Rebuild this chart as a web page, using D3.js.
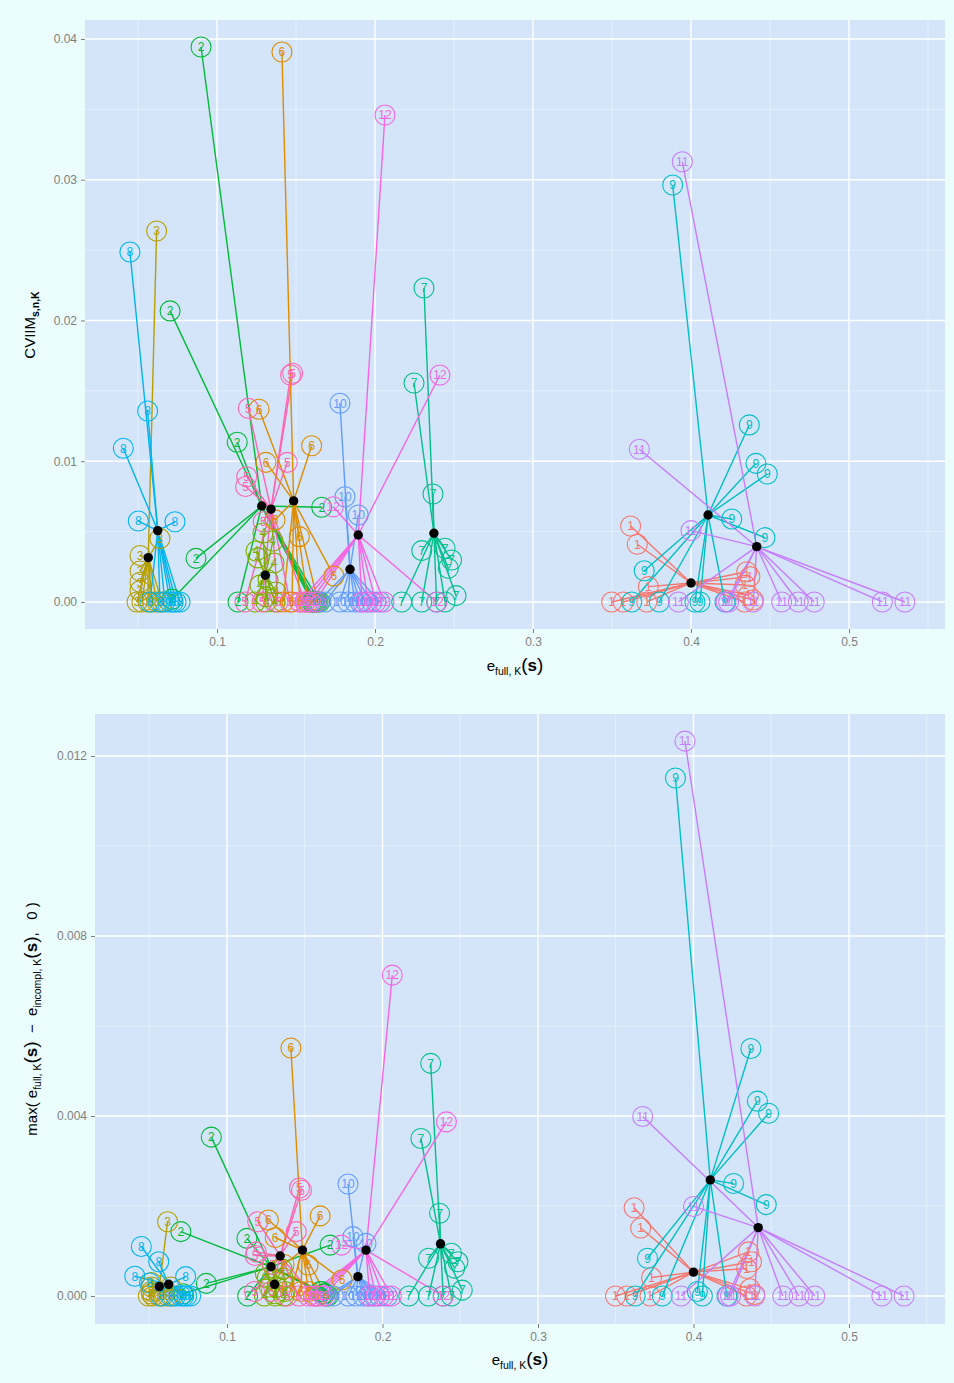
<!DOCTYPE html>
<html><head><meta charset="utf-8">
<script src="https://cdn.jsdelivr.net/npm/d3@7"></script>
<style>body{margin:0;background:#EBFDFD;} svg{display:block}</style>
</head><body><svg id="c" width="954" height="1383"></svg>
<script>
// group labels and colours
const groupLabels = [1,2,3,4,5,6,7,8,9,10,11,12];
const groupColors = ["#F8766D","#00BA38","#B79F00","#7CAE00","#FF64B0","#DE8C00","#00C08B","#00B4F0","#00BFC4","#619CFF","#C77CFF","#F564E3"];

// points: group, e_full,K(s), CVIIM, max(e_full - e_incompl, 0)
const pointGroup = [
 1,1,1,1,1,1,1,1,1,1,1,1,
 2,2,2,2,2,2,2,2,2,2,2,2,
 3,3,3,3,3,3,3,3,3,3,3,3,
 4,4,4,4,4,4,4,4,4,4,4,4,
 5,5,5,5,5,5,5,5,5,5,5,5,
 6,6,6,6,6,6,6,6,6,6,6,6,
 7,7,7,7,7,7,7,7,7,7,7,7,
 8,8,8,8,8,8,8,8,8,8,8,8,
 9,9,9,9,9,9,9,9,9,9,9,9,
 10,10,10,10,10,10,10,10,10,10,10,10,
 11,11,11,11,11,11,11,11,11,11,11,11,
 12,12,12,12,12,12,12,12,12,12,12,12];
const pointX = [
 0.3618,0.366,0.373,0.4353,0.4373,0.4342,0.4363,0.4394,0.3498,0.3571,0.372,0.434,
 0.0899,0.0703,0.0867,0.1128,0.1663,0.0717,0.1133,0.160,0.161,0.162,0.163,0.165,
 0.0618,0.0513,0.0513,0.0513,0.0513,0.0639,0.0494,0.0525,0.0563,0.0589,0.062,0.0652,
 0.1291,0.1247,0.1354,0.1361,0.1272,0.1323,0.1373,0.1259,0.131,0.1241,0.131,0.1367,
 0.1466,0.1479,0.1198,0.1445,0.1188,0.1181,0.1293,0.1177,0.1285,0.1386,0.1462,0.1557,
 0.1411,0.1266,0.1599,0.131,0.1521,0.174,0.1367,0.1418,0.1475,0.1525,0.1576,0.1639,
 0.231,0.2247,0.2367,0.2296,0.2443,0.2485,0.2464,0.2513,0.2169,0.2296,0.239,0.2443,
 0.0449,0.0561,0.0407,0.0502,0.0734,0.0576,0.0639,0.067,0.0703,0.0722,0.0741,0.0766,
 0.3884,0.4369,0.4411,0.4483,0.4258,0.4468,0.3704,0.3625,0.3799,0.4025,0.4057,0.4215,
 0.1778,0.181,0.1894,0.1639,0.1684,0.1778,0.1829,0.1873,0.1905,0.1943,0.1981,0.2032,
 0.3945,0.3673,0.4,0.392,0.4222,0.4238,0.4394,0.4574,0.4679,0.478,0.5211,0.5354,
 0.2063,0.2411,0.1736,0.1525,0.1557,0.1589,0.162,0.1918,0.1956,0.2006,0.2057,0.2392];
const cviim = [
 0.0054,0.0041,0.00109,0.00215,0.0018,0.00121,0.0005,0.00014,0,0,0,0,
 0.03943,0.02068,0.0031,0.01135,0.00673,0.0002,0,0,0,0,0,0,
 0.02636,0.0033,0.0022,0.0014,0.0008,0.0045,0,0,0,0,0,0,
 0.0049,0.00362,0.00433,0.00277,0.0012,0.00156,0.00071,0.00313,0.00036,0,0,0,
 0.01613,0.01625,0.01376,0.00992,0.0089,0.0082,0.0057,0,0,0,0,0,
 0.03908,0.01369,0.0111,0.00992,0.00464,0.00185,0.00583,0,0,0,0,0,
 0.02231,0.01556,0.00767,0.00365,0.00382,0.00298,0.0024,0.00045,0,0,0,0,
 0.02487,0.01357,0.01092,0.00575,0.0057,0,0,0,0,0,0,0,
 0.02963,0.01258,0.00985,0.00909,0.0059,0.00457,0.00222,0,0,0,0,0,
 0.01412,0.00748,0.00618,0,0,0,0,0,0,0,0,0,
 0.03128,0.01085,0.00507,0,0,0,0,0,0,0,0,0,
 0.0346,0.01613,0.00677,0,0,0,0,0,0,0,0,0];
const maxDiff = [
 0.00196,0.00151,0.00041,0.00098,0.00076,0.00061,0.00016,0.00003,0,0,0,0,
 0.00353,0.00143,0.00028,0.00128,0.00113,0.00005,0,0.0001,0.0001,0.00005,0.00005,0,
 0.00165,0.0003,0.0002,0.0001,0.00005,0.0002,0,0,0,0,0,0,
 0.0007,0.0005,0.0006,0.0004,0.0002,0.0002,0.0001,0.0004,0.00005,0,0,0,
 0.0024,0.00235,0.00165,0.00143,0.00098,0.0009,0.0007,0.0001,0.0001,0,0,0,
 0.00551,0.00169,0.00178,0.0013,0.00069,0.00036,0.0007,0.0002,0.0001,0.0001,0,0,
 0.00517,0.0035,0.00184,0.00084,0.00095,0.00076,0.00062,0.00013,0,0,0,0,
 0.0011,0.00076,0.00044,0.00029,0.00043,0,0,0,0,0,0,0,
 0.01151,0.0055,0.00433,0.00406,0.0025,0.00203,0.00084,0,0,0.0001,0,0,
 0.00249,0.00132,0.00117,0,0,0,0,0,0,0,0,0,
 0.01233,0.00399,0.00199,0,0,0,0,0,0,0,0,0,
 0.00713,0.00387,0.00113,0,0,0,0,0,0,0,0,0];

// group centroids (black dots), indexed like groupLabels
const centroidX       = [0.400,0.1283,0.0565,0.1306,0.1342,0.1485,0.2373,0.0625,0.4108,0.1842,0.4416,0.1894];
const centroidCviim   = [0.00135,0.00682,0.00315,0.0019,0.00659,0.00718,0.00488,0.00507,0.00618,0.00232,0.00393,0.00476];
const centroidMaxDiff = [0.00053,0.00065,0.00021,0.00026,0.00089,0.00102,0.00116,0.00026,0.00258,0.00043,0.00152,0.00102];

// ticks
const xTicks = [0.1,0.2,0.3,0.4,0.5];
const xMinor = [0.05,0.15,0.25,0.35,0.45,0.55];
const topYTicks = [0,0.01,0.02,0.03,0.04];
const topYMinor = [0.005,0.015,0.025,0.035];
const botYTicks = [0,0.004,0.008,0.012];
const botYMinor = [0.002,0.006,0.010];

const svg = d3.select("#c");
const colorOf = d3.scaleOrdinal().domain(groupLabels).range(groupColors);
const pts = pointGroup.map((g,i)=>({g, x:pointX[i], top:cviim[i], bot:maxDiff[i]}));
const cents = groupLabels.map((g,i)=>({g, x:centroidX[i], top:centroidCviim[i], bot:centroidMaxDiff[i]}));

function panel(o){
  const x = d3.scaleLinear().domain(o.xDomain).range([o.left,o.right]);
  const y = d3.scaleLinear().domain(o.yDomain).range([o.bottom,o.top]);
  const g = svg.append("g");
  g.append("rect").attr("x",o.left).attr("y",o.top).attr("width",o.right-o.left).attr("height",o.bottom-o.top).attr("fill","#D4E5FA");
  // minor grid
  g.selectAll(".mx").data(xMinor).join("line").attr("x1",d=>x(d)).attr("x2",d=>x(d)).attr("y1",o.top).attr("y2",o.bottom).attr("stroke","#E6F0FC").attr("stroke-width",0.9);
  g.selectAll(".my").data(o.yMinor).join("line").attr("y1",d=>y(d)).attr("y2",d=>y(d)).attr("x1",o.left).attr("x2",o.right).attr("stroke","#E6F0FC").attr("stroke-width",0.9);
  g.selectAll(".Mx").data(xTicks).join("line").attr("x1",d=>x(d)).attr("x2",d=>x(d)).attr("y1",o.top).attr("y2",o.bottom).attr("stroke","#FFFFFF").attr("stroke-width",1.4);
  g.selectAll(".My").data(o.yTicks).join("line").attr("y1",d=>y(d)).attr("y2",d=>y(d)).attr("x1",o.left).attr("x2",o.right).attr("stroke","#FFFFFF").attr("stroke-width",1.4);
  // axes
  const ax = g.append("g").attr("transform",`translate(0,${o.bottom})`).call(d3.axisBottom(x).tickValues(xTicks).tickSize(4).tickPadding(4).tickFormat(d3.format(".1f")));
  const ay = g.append("g").attr("transform",`translate(${o.left},0)`).call(d3.axisLeft(y).tickValues(o.yTicks).tickSize(4).tickPadding(4).tickFormat(d3.format(o.yFmt)));
  [ax,ay].forEach(a=>{a.select(".domain").remove();a.selectAll("line").attr("stroke","#7F7F7F");a.selectAll("text").attr("fill","#7F7F7F").style("font-family","Liberation Sans, Arial, sans-serif").style("font-size","12px");});
  // segments
  const cmap = new Map(cents.map(c=>[c.g,c]));
  const clip = "clip"+o.id;
  svg.append("clipPath").attr("id",clip).append("rect").attr("x",o.left).attr("y",o.top).attr("width",o.right-o.left).attr("height",o.bottom-o.top);
  const d = g.append("g").attr("clip-path",`url(#${clip})`);
  d.selectAll(".seg").data(pts).join("line")
    .attr("x1",p=>x(p.x)).attr("y1",p=>y(p[o.key]))
    .attr("x2",p=>x(cmap.get(p.g).x)).attr("y2",p=>y(cmap.get(p.g)[o.key]))
    .attr("stroke",p=>colorOf(p.g)).attr("stroke-width",1.4);
  d.selectAll(".pt").data(pts).join("circle")
    .attr("cx",p=>x(p.x)).attr("cy",p=>y(p[o.key])).attr("r",10)
    .attr("fill","none").attr("stroke",p=>colorOf(p.g)).attr("stroke-width",1.1);
  d.selectAll(".lb").data(pts).join("text")
    .attr("x",p=>x(p.x)).attr("y",p=>y(p[o.key])).attr("dy","0.36em").attr("text-anchor","middle")
    .attr("fill",p=>colorOf(p.g)).style("font-family","Liberation Sans, Arial, sans-serif").style("font-size","12px")
    .text(p=>p.g);
  d.selectAll(".ct").data(cents).join("circle")
    .attr("cx",c=>x(c.x)).attr("cy",c=>y(c[o.key])).attr("r",4.7).attr("fill","#000");
  return {x,y};
}

panel({id:1,left:85,right:945,top:20,bottom:629,xDomain:[0.01646,0.56076],yDomain:[-0.00192,0.04135],yTicks:topYTicks,yMinor:topYMinor,yFmt:".2f",key:"top"});
panel({id:2,left:95,right:945,top:714,bottom:1324,xDomain:[0.01511,0.56173],yDomain:[-0.000622,0.012933],yTicks:botYTicks,yMinor:botYMinor,yFmt:".3f",key:"bot"});

const ff = "Liberation Sans, Arial, sans-serif";
function xTitle(cx, cy){
  const t = svg.append("text").attr("x",cx).attr("y",cy).attr("text-anchor","middle").style("font-family",ff).attr("fill","#000");
  t.append("tspan").style("font-size","15px").text("e");
  t.append("tspan").style("font-size","10.5px").attr("dy",4).text("full, K");
  t.append("tspan").style("font-size","19px").attr("dy",-4).text("(");
  t.append("tspan").style("font-size","17px").style("font-weight","bold").text("s");
  t.append("tspan").style("font-size","19px").text(")");
}
xTitle(515,671);
xTitle(520,1365);

// y titles
const yt1 = svg.append("text").attr("transform","translate(35,325) rotate(-90)").attr("text-anchor","middle").style("font-family",ff).attr("fill","#000");
yt1.append("tspan").style("font-size","15px").text("CVIIM");
yt1.append("tspan").style("font-size","10.5px").style("font-weight","bold").attr("dy",4).text("s,n,K");

const yt2 = svg.append("text").attr("transform","translate(37,1019) rotate(-90)").attr("text-anchor","middle").style("font-family",ff).attr("fill","#000").attr("xml:space","preserve");
yt2.append("tspan").style("font-size","15px").text("max( e");
yt2.append("tspan").style("font-size","10.5px").attr("dy",4).text("full, K");
yt2.append("tspan").style("font-size","19px").attr("dy",-4).text("(");
yt2.append("tspan").style("font-size","17px").style("font-weight","bold").text("s");
yt2.append("tspan").style("font-size","19px").text(")");
yt2.append("tspan").style("font-size","15px").text("  \u2212  e");
yt2.append("tspan").style("font-size","10.5px").attr("dy",4).text("incompl, K");
yt2.append("tspan").style("font-size","19px").attr("dy",-4).text("(");
yt2.append("tspan").style("font-size","17px").style("font-weight","bold").text("s");
yt2.append("tspan").style("font-size","19px").text(")");
yt2.append("tspan").style("font-size","15px").text(",   0 )");
</script></body></html>
